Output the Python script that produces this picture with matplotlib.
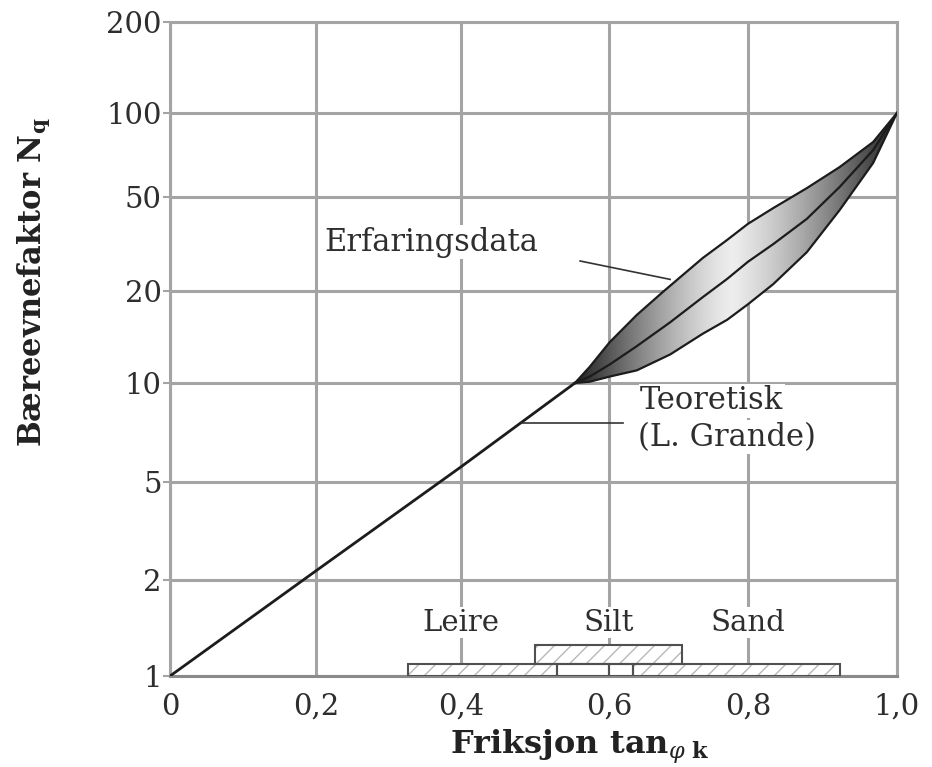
import numpy as np
import matplotlib
matplotlib.use("Agg")
import matplotlib.pyplot as plt

plt.rcParams["font.family"] = ["DejaVu Serif"]
plt.rcParams["mathtext.fontset"] = "dejavuserif"

# theoretical line (L. Grande), below the experience band
line_x = [0.0, 0.2, 0.4, 0.554]
line_n = [1.0, 2.18, 5.56, 10.0]

# experience band (Erfaringsdata): upper, middle and lower edges
upper_x = [0.554, 0.574, 0.601, 0.640, 0.678, 0.735, 0.770, 0.800, 0.834, 0.879, 0.923, 0.968, 1.0]
upper_n = [10.0, 11.3, 13.6, 16.7, 19.9, 27.6, 32.9, 38.5, 44.9, 53.8, 64.0, 78.7, 100.0]
mid_x = [0.554, 0.574, 0.601, 0.640, 0.688, 0.735, 0.770, 0.800, 0.834, 0.879, 0.923, 0.968, 1.0]
mid_n = [10.0, 10.5, 11.5, 13.2, 15.8, 19.1, 22.5, 26.6, 31.6, 40.4, 54.3, 73.6, 100.0]
lower_x = [0.554, 0.574, 0.601, 0.640, 0.688, 0.735, 0.770, 0.800, 0.834, 0.879, 0.923, 0.968, 1.0]
lower_n = [10.0, 10.1, 10.5, 11.0, 12.4, 14.5, 16.1, 18.1, 21.4, 29.2, 44.0, 66.2, 100.0]

# soil range bars at the bottom
seg_left = [0.327, 0.53, 0.60, 0.635, 0.50]
seg_right = [0.53, 0.60, 0.635, 0.923, 0.705]
seg_bottom = [1.0, 1.0, 1.0, 1.0, 1.088]
seg_top = [1.088, 1.088, 1.088, 1.088, 1.25]
seg_hatch = [True, False, False, True, True]
soil_names = ["Leire", "Silt", "Sand"]
soil_x = [0.4, 0.6, 0.8]
soil_y = 1.47

xticks = [0, 0.2, 0.4, 0.6, 0.8, 1.0]
xtick_labels = ["0", "0,2", "0,4", "0,6", "0,8", "1,0"]
yticks = [1, 2, 5, 10, 20, 50, 100, 200]

# the printed grid is not evenly spaced; these are the gridline positions (px)
xgrid_px = [170, 316, 461, 609, 748, 897]
ygrid_px = [676, 580, 482, 383, 291, 197, 113, 22]

gridc = "#a4a4a4"
textc = "#2e2e2e"

ylog = np.log10(yticks)
ypos = 676 - np.array(ygrid_px, dtype=float)


def yfwd(v):
    return np.interp(np.log10(np.clip(v, 1e-6, None)), ylog, ypos)


def yinv(p):
    return 10 ** np.interp(p, ypos, ylog)


def xfwd(v):
    return np.interp(v, xticks, xgrid_px)


def xinv(p):
    return np.interp(p, xgrid_px, xticks)


fig = plt.figure(figsize=(9.32, 7.67), dpi=100)
ax = fig.add_axes([0.1824, 0.1186, 0.78, 0.8527])
ax.set_yscale("function", functions=(yfwd, yinv))
ax.set_xscale("function", functions=(xfwd, xinv))
ax.set_xlim(0, 1)
ax.set_ylim(1, 200)

ax.set_xticks(xticks)
ax.set_xticklabels(xtick_labels)
ax.set_yticks(yticks)
ax.set_yticklabels([str(v) for v in yticks])
ax.yaxis.set_minor_locator(matplotlib.ticker.NullLocator())
ax.xaxis.set_minor_locator(matplotlib.ticker.NullLocator())
ax.tick_params(axis="x", length=0, pad=12, labelsize=21, labelcolor=textc)
ax.tick_params(axis="y", length=5, width=1.5, color=gridc, pad=1, labelsize=21, labelcolor=textc)
ax.grid(True, color=gridc, linewidth=2.2)
ax.set_axisbelow(True)
for s in ax.spines.values():
    s.set_color(gridc)
    s.set_linewidth(2.2)
ax.spines["bottom"].set_color("#8a8a8a")

# shaded band
poly = ax.fill(upper_x + lower_x[::-1], upper_n + lower_n[::-1], facecolor="none", edgecolor="none")[0]
gx, gy = np.meshgrid(np.linspace(0.55, 1.0, 200), np.logspace(1, 2, 200))
u = (gx - 0.554) / 0.446
shade = np.clip(0.93 - 0.8 * (np.abs(u - 0.5) / 0.5) ** 1.3, 0.1, 1.0)
mesh = ax.pcolormesh(gx, gy, shade, cmap="gray", vmin=0, vmax=1, shading="gouraud", zorder=2)
mesh.set_clip_path(poly)

for xs, ys in [(upper_x, upper_n), (mid_x, mid_n), (lower_x, lower_n)]:
    ax.plot(xs, ys, color="#1c1c1c", linewidth=1.6, zorder=3)
ax.plot(line_x, line_n, color="#1c1c1c", linewidth=2.0, zorder=3)

# soil bars
w = [r - l for l, r in zip(seg_left, seg_right)]
h = [t - b for b, t in zip(seg_bottom, seg_top)]
ax.bar(seg_left, h, width=w, bottom=seg_bottom, align="edge", color="white",
       edgecolor="none", zorder=3)
hl = [l for l, f in zip(seg_left, seg_hatch) if f]
hw = [x for x, f in zip(w, seg_hatch) if f]
hh = [x for x, f in zip(h, seg_hatch) if f]
hb = [x for x, f in zip(seg_bottom, seg_hatch) if f]
ax.bar(hl, hh, width=hw, bottom=hb, align="edge", color="none",
       edgecolor="#b8b8b8", linewidth=0, hatch="//", zorder=3)
ax.bar(seg_left, h, width=w, bottom=seg_bottom, align="edge", color="none",
       edgecolor="#505050", linewidth=1.5, zorder=4)

for name, x in zip(soil_names, soil_x):
    ax.text(x, soil_y, name, ha="center", va="center", fontsize=21, color=textc,
            bbox=dict(facecolor="white", edgecolor="none", pad=1), zorder=5)

# annotations
ax.text(0.212, 32.2, "Erfaringsdata", ha="left", va="center", fontsize=22, color=textc,
        bbox=dict(facecolor="white", edgecolor="none", pad=1), zorder=5)
ax.plot([0.561, 0.688], [26.8, 22.4], color="#333333", linewidth=1.2, zorder=4)
ax.text(0.645, 8.82, "Teoretisk", ha="left", va="center", fontsize=22, color=textc,
        bbox=dict(facecolor="white", edgecolor="none", pad=1), zorder=5)
ax.text(0.642, 6.85, "(L. Grande)", ha="left", va="center", fontsize=22, color=textc,
        bbox=dict(facecolor="white", edgecolor="none", pad=1), zorder=5)
ax.plot([0.483, 0.62], [7.55, 7.55], color="#333333", linewidth=1.2, zorder=4)

fig.text(0.036, 0.632, r"Bæreevnefaktor N$_\mathbf{q}$", rotation=90, ha="center", va="center",
         fontsize=22, fontweight="bold", color="#222222")
fig.text(0.622, 0.026, r"Friksjon tan$_{\varphi\ \mathbf{k}}$", ha="center", va="center",
         fontsize=23, fontweight="bold", color="#222222")

fig.savefig("out.png", dpi=100)
